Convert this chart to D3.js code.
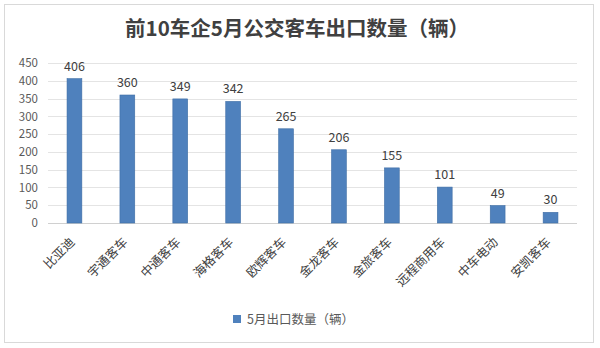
<!DOCTYPE html>
<html>
<head>
<meta charset="utf-8">
<script src="https://cdn.jsdelivr.net/npm/d3@7"></script>
<style>
  body { margin: 0; background: #fff; }
  text { font-family: "Noto Sans CJK SC", "Noto Sans", sans-serif; }
</style>
</head>
<body>
<div id="grafica"></div>
<script>
var categorias = ["比亚迪", "宇通客车", "中通客车", "海格客车", "欧辉客车", "金龙客车", "金旅客车", "远程商用车", "中车电动", "安凯客车"];
var valores = [406, 360, 349, 342, 265, 206, 155, 101, 49, 30];
var ticks = [0, 50, 100, 150, 200, 250, 300, 350, 400, 450];
var titulo = "前10车企5月公交客车出口数量（辆）";
var nombreSerie = "5月出口数量（辆）";

var ancho = 600, alto = 348;
var margen = { izq: 48, der: 577, arriba: 63, abajo: 223 };

var svg = d3.select("#grafica").append("svg")
    .attr("width", ancho)
    .attr("height", alto);

// marco del grafico
svg.append("rect")
    .attr("x", 4.5).attr("y", 4.5)
    .attr("width", 589).attr("height", 338)
    .attr("fill", "#fff")
    .attr("stroke", "#d9d9d9");

var x = d3.scaleBand()
    .domain(categorias)
    .range([margen.izq, margen.der])
    .paddingInner(0.72)
    .paddingOuter(0.36);

var y = d3.scaleLinear()
    .domain([0, 450])
    .range([margen.abajo, margen.arriba]);

// lineas de la cuadricula
svg.append("g")
    .selectAll("line")
    .data(ticks)
    .enter().append("line")
    .attr("x1", margen.izq).attr("x2", margen.der)
    .attr("y1", function (d) { return Math.round(y(d)) + 0.5; })
    .attr("y2", function (d) { return Math.round(y(d)) + 0.5; })
    .attr("stroke", function (d) { return d === 0 ? "#d0d0d0" : "#e4e4e4"; });

// eje y
var ejeY = svg.append("g")
    .attr("transform", "translate(" + (margen.izq - 10) + ",0)")
    .call(d3.axisLeft(y).tickValues(ticks).tickSize(0).tickPadding(0));
ejeY.select(".domain").remove();
ejeY.selectAll("text")
    .attr("fill", "#595959")
    .style("font-size", "11.5px");

// barras
svg.append("g")
    .selectAll("rect")
    .data(valores)
    .enter().append("rect")
    .attr("x", function (d, i) { return x(categorias[i]); })
    .attr("y", function (d) { return y(d); })
    .attr("width", x.bandwidth())
    .attr("height", function (d) { return y(0) - y(d); })
    .attr("fill", "#4f81bd")
    .attr("stroke", "#3f6ea6")
    .attr("stroke-width", 0.6);

// etiquetas de valores
svg.append("g")
    .selectAll("text")
    .data(valores)
    .enter().append("text")
    .attr("x", function (d, i) { return x(categorias[i]) + x.bandwidth() / 2; })
    .attr("y", function (d) { return y(d) - 8; })
    .attr("text-anchor", "middle")
    .attr("fill", "#404040")
    .style("font-size", "12.5px")
    .text(function (d) { return d; });

// etiquetas del eje x
svg.append("g")
    .selectAll("text")
    .data(categorias)
    .enter().append("text")
    .attr("transform", function (d) {
        return "translate(" + (x(d) + x.bandwidth() / 2 + 1) + "," + (margen.abajo + 20) + ") rotate(-45)";
    })
    .attr("text-anchor", "end")
    .attr("fill", "#404040")
    .style("font-size", "12.5px")
    .text(function (d) { return d; });

// titulo
svg.append("text")
    .attr("x", 297)
    .attr("y", 36)
    .attr("text-anchor", "middle")
    .attr("fill", "#404040")
    .style("font-size", "20.5px")
    .style("font-weight", "bold")
    .text(titulo);

// leyenda
var leyenda = svg.append("g").attr("transform", "translate(233,315)");
leyenda.append("rect")
    .attr("width", 8).attr("height", 8)
    .attr("fill", "#4f81bd");
leyenda.append("text")
    .attr("x", 14).attr("y", 8.5)
    .attr("fill", "#595959")
    .style("font-size", "12.5px")
    .text(nombreSerie);
</script>
</body>
</html>
